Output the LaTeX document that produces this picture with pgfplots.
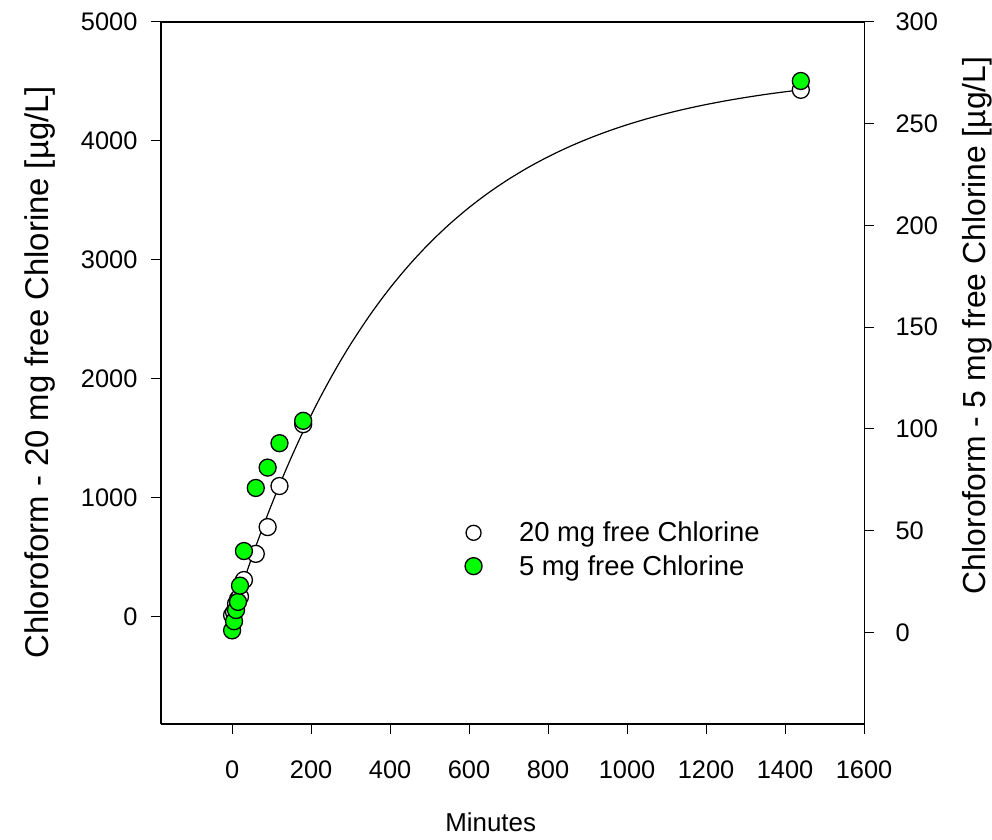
\documentclass[border=0pt]{standalone}
\usepackage{pgfplots}
\pgfplotsset{compat=1.18}
\usepackage{fontspec}
\setmainfont{Liberation Sans}
\definecolor{mygreen}{RGB}{0,255,0}
\begin{document}
\begin{tikzpicture}[x=1bp,y=1bp]
\path[use as bounding box] (-161,-116) rectangle (831,724);
\pgfplotsset{
  common/.style={
    at={(0,0)}, anchor=south west, scale only axis,
    width=703bp, height=702bp,
    xmin=-180, xmax=1600,
    scaled ticks=false,
    /pgf/number format/assume math mode=true,
    /pgf/number format/set thousands separator={},
    tick align=outside,
    major tick length=10bp,
    tick style={line width=1bp, black},
    ticklabel style={font=\fontsize{25.5}{30}\selectfont},
  }
}
\begin{axis}[common,
  ymin=-900, ymax=5000,
  axis x line*=bottom, axis y line*=left,
  axis line style={line width=1.5bp},
  xtick={0,200,...,1600},
  ytick={0,1000,...,5000},
  xlabel={Minutes},
  ylabel={Chloroform - 20 mg free Chlorine [µg/L]},
  x label style={at={(axis description cs:0.469,0)}, anchor=center, yshift=-98bp, font=\fontsize{26}{31}\selectfont},
  y label style={at={(axis description cs:-0.172,0.501)}, anchor=center, font=\fontsize{33}{39}\selectfont},
  xticklabel style={yshift=-23bp},
  yticklabel style={xshift=-10bp},
]
\addplot[smooth, black, line width=1.2bp, no marks] coordinates {
(0,0) (20,206.7) (40,404.0) (60,592.6) (90,859.5) (120,1108.7) (150,1341.3)
(180,1558.4) (220,1825.2) (260,2068.9) (300,2291.2) (350,2541.7) (400,2765.0)
(450,2964.0) (500,3141.4) (550,3299.5) (600,3440.5) (650,3566.1) (700,3678.1)
(750,3777.9) (800,3866.9) (850,3946.2) (900,4016.9) (950,4079.9) (1000,4136.1)
(1050,4186.2) (1100,4230.8) (1150,4270.6) (1200,4306.1) (1250,4337.6)
(1300,4365.8) (1350,4391.0) (1400,4413.3) (1440,4429.5)};
\addplot[only marks, mark=*, mark size=8.5bp, mark options={fill=white, draw=black, line width=1.3bp}] coordinates {
(0,15) (5,40) (10,110) (15,150) (20,170) (30,310) (60,530) (90,755) (120,1100) (180,1620) (1440,4430)};
\end{axis}
\begin{axis}[common,
  ymin=-45, ymax=300,
  axis x line*=top, xtick=\empty,
  x axis line style={line width=1.5bp},
  axis y line*=right,
  y axis line style={line width=0.8bp},
  ytick={0,50,...,300},
  yticklabel style={anchor=west, xshift=18bp},
  ylabel={Chloroform - 5 mg free Chlorine [µg/L]},
  y label style={at={(axis description cs:1.161,0.568)}, anchor=center, font=\fontsize{32}{38}\selectfont},
  legend style={draw=none, fill=none, at={(rel axis cs:0.428,0.2935)}, anchor=north west,
    font=\fontsize{27.5}{33}\selectfont, row sep=8bp,
    /tikz/every odd column/.append style={column sep=35bp}},
  legend cell align=left,
]
\addlegendimage{only marks, mark=*, mark size=7.5bp, mark options={fill=white, draw=black, line width=1.3bp}}
\addlegendentry{20 mg free Chlorine}
\addplot[only marks, mark=*, mark size=8.5bp, mark options={fill=mygreen, draw=black, line width=1.3bp}] coordinates {
(0,1) (5,5.5) (10,11) (15,15) (20,23) (30,40) (60,71) (90,81) (120,93) (180,104) (1440,271)};
\addlegendentry{5 mg free Chlorine}
\end{axis}
\end{tikzpicture}
\end{document}
